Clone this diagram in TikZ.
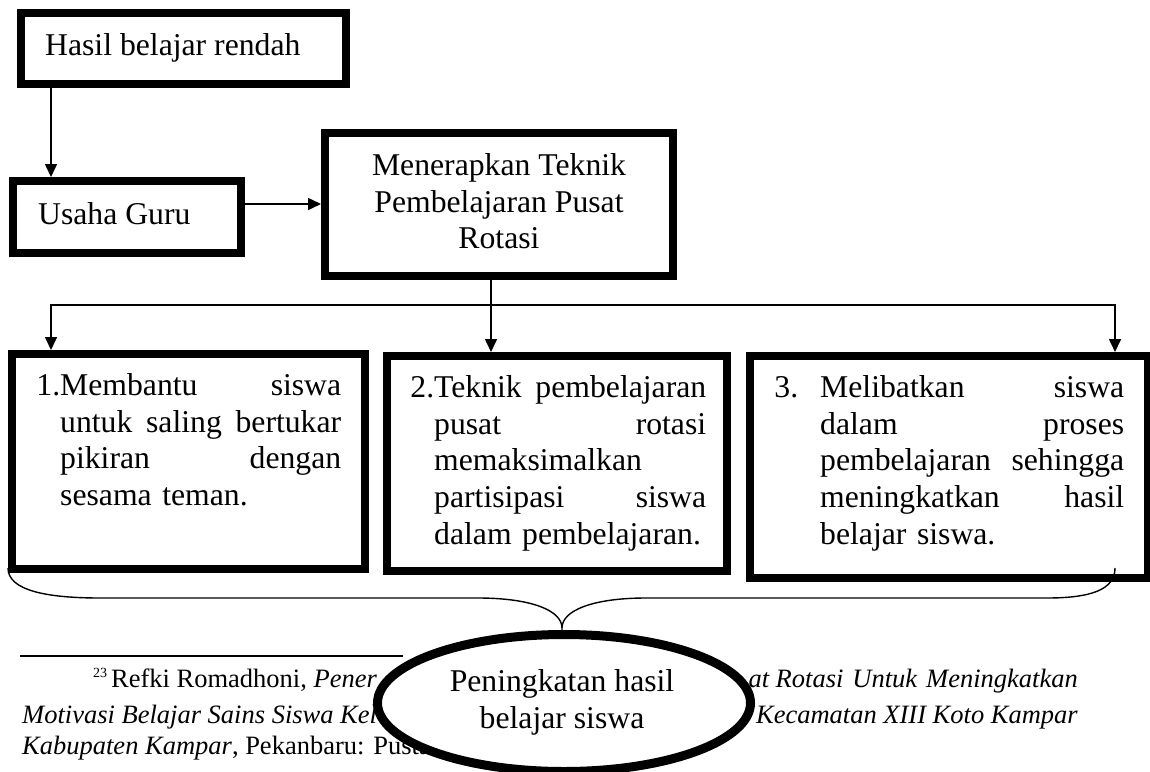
\documentclass[tikz,border=0pt]{standalone}
\usepackage{fontspec}
\setmainfont{Liberation Serif}
\usetikzlibrary{arrows.meta,shapes.geometric,calc}
\begin{document}
\begin{tikzpicture}[x=1pt,y=-1pt,
  box/.style={draw, line width=8pt, inner sep=0pt, fill=white},
  arr/.style={line width=1.6pt, -{Triangle[length=13pt,width=12pt]}},
  conn/.style={line width=1.6pt},
  txt/.style={inner sep=0pt, font=\fontsize{31.7}{36.8}\selectfont},
  fn/.style={inner sep=0pt, font=\fontsize{26.5}{30}\selectfont},
]
\useasboundingbox[fill=white] (0,0) rectangle (1150,771);

% boxes
\node[box, minimum width=325pt, minimum height=71pt] (A) at (183.5,48.5) {};
\node[box, minimum width=228pt, minimum height=72pt] (B) at (127,217) {};
\node[box, minimum width=348pt, minimum height=143pt] (C) at (499,204.5) {};
\node[box, minimum width=353pt, minimum height=215pt] (box1) at (188.5,461.5) {};
\node[box, minimum width=340pt, minimum height=215pt] (box2) at (557,463.5) {};
\node[box, minimum width=398pt, minimum height=222pt] (box3) at (949,467) {};

% texts
\node[txt, anchor=base west] (tA) at (45,55) {Hasil belajar rendah};
\node[txt, anchor=base west] (tB) at (38,224) {Usaha Guru};
\node[txt, anchor=north, align=center] (tC) at (499,150) {\rule{0pt}{25pt}Menerapkan Teknik\\Pembelajaran Pusat\\Rotasi};
\node[txt, anchor=north west, text width=281pt, align=left] (t1) at (60,370)
  {\rule{0pt}{25pt}\llap{1.}Membantu\hfill siswa\\ untuk\hfill saling\hfill bertukar\\ pikiran\hfill dengan\\ sesama teman.};
\node[txt, anchor=north west, text width=272pt, align=left] (t2) at (434,372)
  {\rule{0pt}{25pt}\llap{2.}Teknik\hfill pembelajaran\\ pusat\hfill rotasi\\ memaksimalkan\\ partisipasi\hfill siswa\\ dalam pembelajaran.};
\node[txt, anchor=north west, text width=304pt, align=left] (t3) at (820,372)
  {\rule{0pt}{25pt}\llap{3.\hspace*{22pt}}Melibatkan\hfill siswa\\ dalam\hfill proses\\ pembelajaran\hfill sehingga\\ meningkatkan\hfill hasil\\ belajar siswa.};

% connectors
\draw[arr] ([xshift=34pt]A.south west) -- ([xshift=34pt]A.south west |- B.north);
\draw[arr] ([yshift=13pt]B.east) -- ([yshift=13pt]B.east -| C.west);
\coordinate (hub) at (491,305);
\draw[conn] ([xshift=-8pt]C.south) -- (hub);
\draw[arr] (hub) -| ([xshift=43pt]box1.north west);
\draw[arr] (hub) -- (hub |- box2.north);
\draw[arr] (hub) -| ([xshift=-37pt]box3.north east);

% brace
\draw[line width=1.4pt] (8,568) .. controls (8,590) and (45,598) .. (100,598)
  -- (478,598) .. controls (530,598) and (562,610) .. (562,628) coordinate (tip)
  .. controls (562,610) and (594,598) .. (646,598)
  -- (1047,598) .. controls (1090,598) and (1115,590) .. (1115,568);

% footnote
\draw[line width=1.5pt] (20,656) -- (403,656);
\node[fn, anchor=base west] (f1a) at (93,687) {\raisebox{10pt}{\fontsize{14}{14}\selectfont 23}\hspace{4pt}Refki Romadhoni, \textit{Pener}};
\node[fn, anchor=base east] (f1c) at (1078,687) {\textit{at Rotasi\hspace{9pt}Untuk\hspace{9pt}Meningkatkan}};
\node[fn, anchor=base west] (f2a) at (22,723) {\textit{Motivasi Belajar Sains Siswa Kel}};
\node[fn, anchor=base east] (f2b) at (1078,723) {\textit{Kecamatan XIII Koto Kampar}};
\node[fn, anchor=base west] (f3a) at (22,754) {\textit{Kabupaten Kampar}, Pekanbaru: Pusta};

% ellipse
\node[ellipse, draw, line width=9pt, fill=white, inner sep=0pt,
      minimum width=373pt, minimum height=137pt] (E) at (564,703) {};
\node[txt, anchor=north, align=center] (tE) at (562,666) {\rule{0pt}{25pt}Peningkatan hasil\\belajar siswa};
\end{tikzpicture}
\end{document}
